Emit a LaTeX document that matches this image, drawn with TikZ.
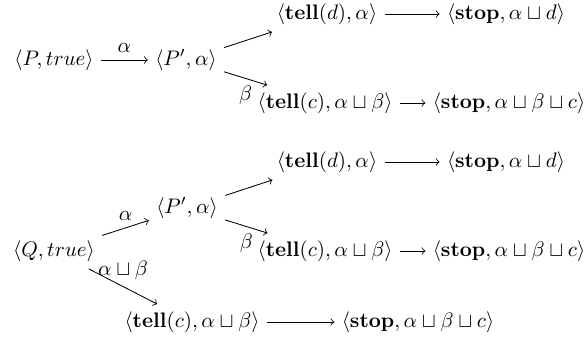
\documentclass[tikz,border=0pt]{standalone}
\usepackage{amssymb}
\begin{document}
\begin{tikzpicture}[x=0.476pt,y=-0.476pt,
  st/.style={inner sep=3.33pt},
  arr/.style={->}]
\useasboundingbox (0,0) rectangle (584,338);
% first tree
\node[st] (Pt)  at (54,60)   {$\langle P, true\rangle$};
\node[st] (P1)  at (186,60)  {$\langle P', \alpha\rangle$};
\node[st] (td1) at (327,14)  {$\langle \mathbf{tell}(d), \alpha\rangle$};
\node[st] (s1)  at (506,14)  {$\langle \mathbf{stop}, \alpha \sqcup d\rangle$};
\node[st] (tc1) at (325,103) {$\langle \mathbf{tell}(c), \alpha \sqcup \beta\rangle$};
\node[st] (sc1) at (509,103) {$\langle \mathbf{stop}, \alpha \sqcup \beta \sqcup c\rangle$};
\draw[arr] (Pt) -- node[above]{$\alpha$} (P1);
\draw[arr] (P1) -- (td1);
\draw[arr] (P1) -- node[below]{$\beta$} (tc1);
\draw[arr] (td1) -- (s1);
\draw[arr] (tc1) -- (sc1);
% second tree
\node[st] (Q)   at (54,251)  {$\langle Q, true\rangle$};
\node[st] (P2)  at (187,208) {$\langle P', \alpha\rangle$};
\node[st] (td2) at (327,162) {$\langle \mathbf{tell}(d), \alpha\rangle$};
\node[st] (s2)  at (506,162) {$\langle \mathbf{stop}, \alpha \sqcup d\rangle$};
\node[st] (tc2) at (325,251) {$\langle \mathbf{tell}(c), \alpha \sqcup \beta\rangle$};
\node[st] (sc2) at (509,251) {$\langle \mathbf{stop}, \alpha \sqcup \beta \sqcup c\rangle$};
\node[st] (tc3) at (192,322) {$\langle \mathbf{tell}(c), \alpha \sqcup \beta\rangle$};
\node[st] (sc3) at (418,322) {$\langle \mathbf{stop}, \alpha \sqcup \beta \sqcup c\rangle$};
\draw[arr] (Q) -- node[above]{$\alpha$} (P2);
\draw[arr] (Q) -- node[above]{$\alpha \sqcup \beta$} (tc3);
\draw[arr] (P2) -- (td2);
\draw[arr] (P2) -- node[below]{$\beta$} (tc2);
\draw[arr] (td2) -- (s2);
\draw[arr] (tc2) -- (sc2);
\draw[arr] (tc3) -- (sc3);
\end{tikzpicture}
\end{document}
